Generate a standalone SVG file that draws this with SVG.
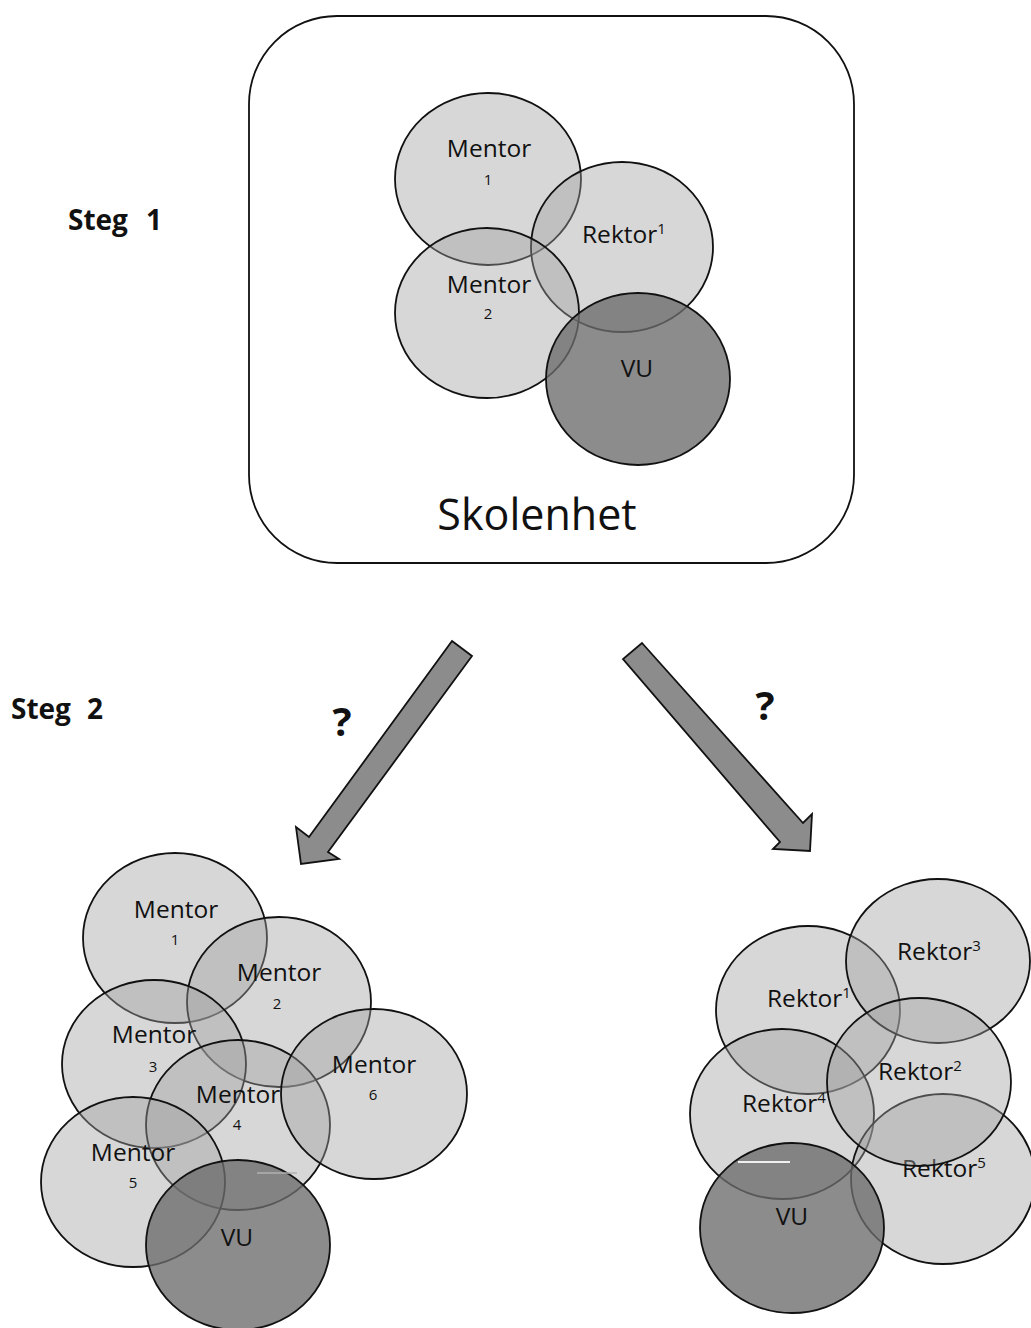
<svg xmlns="http://www.w3.org/2000/svg" width="1031" height="1328" viewBox="0 0 1031 1328">
<style>
  .lt { fill: #a0a0a0; fill-opacity: 0.42; stroke: #111; stroke-width: 1.8; }
  .vu { fill: #6c6c6c; fill-opacity: 0.78; stroke: #111; stroke-width: 1.8; }
  .lbl { font-family: "Open Sans", "Liberation Sans", sans-serif; font-size: 24.5px; fill: #111; }
  .num { font-family: "Open Sans", "Liberation Sans", sans-serif; font-size: 15px; fill: #111; text-anchor: middle; }
  .sup { font-size: 15px; }
  .c { text-anchor: middle; }
  .steg { font-family: "Open Sans", "Liberation Sans", sans-serif; font-size: 28px; font-weight: bold; fill: #111; }
  .q { font-family: "Open Sans", "Liberation Sans", sans-serif; font-size: 40px; font-weight: bold; fill: #111; text-anchor: middle; }
  .arrow { fill: #8c8c8c; stroke: #111; stroke-width: 1.8; stroke-linejoin: miter; }
</style>
<rect width="1031" height="1328" fill="#ffffff"/>

<g id="steg1"><text class="steg" x="68" y="230">Steg<tspan x="146">1</tspan></text></g>
<g id="steg2"><text class="steg" x="11" y="719">Steg<tspan x="87">2</tspan></text></g>

<g id="skolenhet">
  <rect x="249" y="16" width="605" height="547" rx="88" ry="88" fill="none" stroke="#111" stroke-width="1.8"/>
  <text class="lbl" x="537" y="530" text-anchor="middle" style="font-size:43px">Skolenhet</text>
</g>

<g id="s1-mentor1">
  <ellipse class="lt" cx="488" cy="179" rx="93" ry="86"/>
  <text class="lbl c" x="489" y="157">Mentor</text>
  <text class="num" x="488" y="185">1</text>
</g>
<g id="s1-rektor1">
  <ellipse class="lt" cx="622" cy="247" rx="91" ry="85"/>
  <text class="lbl" x="582" y="243">Rektor<tspan class="sup" dy="-9">1</tspan></text>
</g>
<g id="s1-mentor2">
  <ellipse class="lt" cx="487" cy="313" rx="92" ry="85"/>
  <text class="lbl c" x="489" y="293">Mentor</text>
  <text class="num" x="488" y="319">2</text>
</g>
<g id="s1-vu">
  <ellipse class="vu" cx="638" cy="379" rx="92" ry="86"/>
  <text class="lbl c" x="637" y="377">VU</text>
</g>

<g id="connectors">
  <polygon class="arrow" points="452,641 472,656 328,852 339,859 301,864 296,827 309,837"/>
  <polygon class="arrow" points="642,643 803,823 812,814 810,851 773,849 780,842 623,659"/>
</g>
<g id="q-left"><text class="q" x="342" y="736">?</text></g>
<g id="q-right"><text class="q" x="765" y="720">?</text></g>

<g id="l-mentor1">
  <ellipse class="lt" cx="175" cy="938" rx="92" ry="85"/>
  <text class="lbl c" x="176" y="918">Mentor</text>
  <text class="num" x="175" y="945">1</text>
</g>
<g id="l-mentor2">
  <ellipse class="lt" cx="279" cy="1002" rx="92" ry="85"/>
  <text class="lbl c" x="279" y="981">Mentor</text>
  <text class="num" x="277" y="1009">2</text>
</g>
<g id="l-mentor3">
  <ellipse class="lt" cx="154" cy="1064" rx="92" ry="84"/>
  <text class="lbl c" x="154" y="1043">Mentor</text>
  <text class="num" x="153" y="1072">3</text>
</g>
<g id="l-mentor4">
  <ellipse class="lt" cx="238" cy="1125" rx="92" ry="85"/>
  <text class="lbl c" x="238" y="1103">Mentor</text>
  <text class="num" x="237" y="1130">4</text>
</g>
<g id="l-mentor6">
  <ellipse class="lt" cx="374" cy="1094" rx="93" ry="85"/>
  <text class="lbl c" x="374" y="1073">Mentor</text>
  <text class="num" x="373" y="1100">6</text>
</g>
<g id="l-mentor5">
  <ellipse class="lt" cx="133" cy="1182" rx="92" ry="85"/>
  <text class="lbl c" x="133" y="1161">Mentor</text>
  <text class="num" x="133" y="1188">5</text>
</g>
<g id="l-vu">
  <ellipse class="vu" cx="238" cy="1245" rx="92" ry="85"/>
  <text class="lbl c" x="237" y="1246">VU</text>
  <line x1="257" y1="1173" x2="297" y2="1173" stroke="#b0b0b0" stroke-width="1.5"/>
</g>

<g id="r-rektor1">
  <ellipse class="lt" cx="808" cy="1010" rx="92" ry="84"/>
  <text class="lbl" x="767" y="1007">Rektor<tspan class="sup" dy="-9">1</tspan></text>
</g>
<g id="r-rektor3">
  <ellipse class="lt" cx="938" cy="961" rx="92" ry="82"/>
  <text class="lbl" x="897" y="960">Rektor<tspan class="sup" dy="-9">3</tspan></text>
</g>
<g id="r-rektor4">
  <ellipse class="lt" cx="782" cy="1114" rx="92" ry="85"/>
  <text class="lbl" x="742" y="1112">Rektor<tspan class="sup" dy="-9">4</tspan></text>
</g>
<g id="r-rektor5">
  <ellipse class="lt" cx="943" cy="1179" rx="92" ry="85"/>
  <text class="lbl" x="902" y="1177">Rektor<tspan class="sup" dy="-9">5</tspan></text>
</g>
<g id="r-rektor2">
  <ellipse class="lt" cx="919" cy="1082" rx="92" ry="84"/>
  <text class="lbl" x="878" y="1080">Rektor<tspan class="sup" dy="-9">2</tspan></text>
</g>
<g id="r-vu">
  <ellipse class="vu" cx="792" cy="1228" rx="92" ry="85"/>
  <text class="lbl c" x="792" y="1225">VU</text>
  <line x1="738" y1="1162" x2="790" y2="1162" stroke="#f0f0f0" stroke-width="2"/>
</g>
</svg>
